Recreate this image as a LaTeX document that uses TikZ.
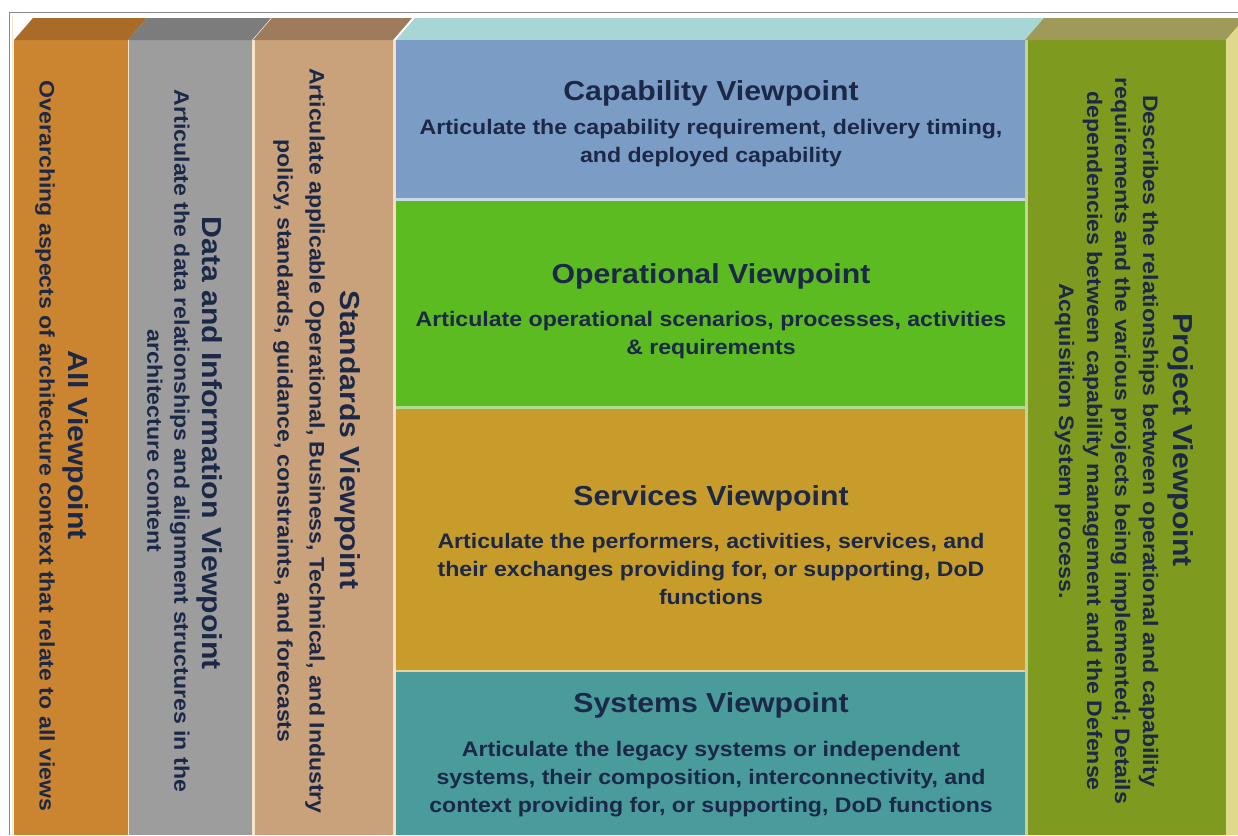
\documentclass[tikz,border=0pt]{standalone}
\usepackage{fontspec}
\setmainfont{Liberation Sans}[FakeStretch=1.1]
\definecolor{ink}{HTML}{1C2847}
\definecolor{frameC}{HTML}{8A8A8A}
\definecolor{allF}{HTML}{CB8430}
\definecolor{allT}{HTML}{A86B28}
\definecolor{dataF}{HTML}{9D9D9D}
\definecolor{dataT}{HTML}{7C7C7C}
\definecolor{stdF}{HTML}{C9A27C}
\definecolor{stdT}{HTML}{9E7B5B}
\definecolor{cenT}{HTML}{A8D6D6}
\definecolor{capF}{HTML}{7B9DC5}
\definecolor{opF}{HTML}{5CBB20}
\definecolor{svF}{HTML}{C89C2A}
\definecolor{syF}{HTML}{4A9B9B}
\definecolor{prjF}{HTML}{7F9B1F}
\definecolor{prjT}{HTML}{9F995A}
\definecolor{prjS}{HTML}{E0D98C}
\definecolor{creamL}{HTML}{F6E4CA}
\begin{document}
\begin{tikzpicture}[x=1pt,y=-1pt,
  ttl/.style={font=\bfseries\fontsize{27.5}{30}\selectfont, text=ink, inner sep=0pt},
  dsc/.style={font=\bfseries\fontsize{21}{28}\selectfont, text=ink, align=center, inner sep=0pt},
  vert/.style={rotate=-90},
  sepline/.style={line width=2pt}]
\useasboundingbox (0,0) rectangle (1238,835);
\fill[white] (0,0) rectangle (1238,835);
% frame
\draw[frameC, line width=1pt] (9,835) -- (9,12) -- (1238,12);
\draw[creamL, line width=1pt] (12,835) -- (12,16);
% All column
\fill[allF] (14,40) rectangle (128,835);
\fill[allT] (14,40) -- (128,40) -- (147,18) -- (33,18) -- cycle;
% Data column
\fill[dataF] (128,40) rectangle (252,835);
\fill[dataT] (128,40) -- (252,40) -- (271,18) -- (147,18) -- cycle;
\draw[creamL, line width=1.2pt] (128.5,40) -- (128.5,835);
% Standards column
\fill[creamL] (252,40) rectangle (255,835);
\fill[stdF] (255,40) rectangle (393,835);
\fill[stdT] (253,40) -- (393,40) -- (412,18) -- (272,18) -- cycle;
\fill[creamL!80!pink] (393,40) rectangle (396,835);
% Centre column
\fill[cenT] (396,40) -- (1025,40) -- (1044,18) -- (415,18) -- cycle;
\fill[capF] (396,40) rectangle (1025,198);
\fill[capF!40!white] (396,198) rectangle (1025,201);
\fill[opF] (396,201) rectangle (1025,406);
\fill[opF!50!white] (396,406) rectangle (1025,409);
\fill[svF] (396,409) rectangle (1025,670);
\fill[svF!45!white] (396,670) rectangle (1025,672);
\fill[syF] (396,672) rectangle (1025,835);
% Project column
\fill[prjF!45!white] (1025,40) rectangle (1028,835);
\fill[prjF] (1028,40) rectangle (1226,835);
\fill[prjT] (1025,40) -- (1226,40) -- (1245,18) -- (1044,18) -- cycle;
\fill[prjS] (1226,40) -- (1245,18) -- (1245,835) -- (1226,835) -- cycle;
% Centre texts
\node[ttl] (capT) at (711,93) {Capability Viewpoint};
\node[dsc] (capD) at (711,143) {Articulate the capability requirement, delivery timing,\\and deployed capability};
\node[ttl] (opT) at (711,276) {Operational Viewpoint};
\node[dsc] (opD) at (711,335) {Articulate operational scenarios, processes, activities\\\& requirements};
\node[ttl] (svT) at (711,498) {Services Viewpoint};
\node[dsc] (svD) at (711,569) {Articulate the performers, activities, services, and\\their exchanges providing for, or supporting, DoD\\functions};
\node[ttl] (syT) at (711,705) {Systems Viewpoint};
\node[dsc] (syD) at (711,779) {Articulate the legacy systems or independent\\systems, their composition, interconnectivity, and\\context providing for, or supporting, DoD functions};
% Vertical texts
\node[ttl,vert] (allTt) at (76,445) {All Viewpoint};
\node[dsc,vert] (allD) at (45,446) {Overarching aspects of architecture context that relate to all views};
\node[ttl,vert] (dataTt) at (210,443) {Data and Information Viewpoint};
\node[dsc,vert,font=\bfseries\fontsize{21}{27}\selectfont] (dataD) at (168.5,441) {Articulate the data relationships and alignment structures in the\\architecture content};
\node[ttl,vert] (stdTt) at (348,440) {Standards Viewpoint};
\node[dsc,vert,font=\bfseries\fontsize{21}{32}\selectfont] (stdD) at (299,441) {Articulate applicable Operational, Business, Technical, and Industry\\policy, standards, guidance, constraints, and forecasts};
\node[ttl,vert] (prjTt) at (1181,440) {Project Viewpoint};
\node[dsc,vert] (prjD) at (1106.5,441) {Describes the relationships between operational and capability\\requirements and the various projects being implemented; Details\\dependencies between capability management and the Defense\\Acquisition System process.};
\end{tikzpicture}
\end{document}
